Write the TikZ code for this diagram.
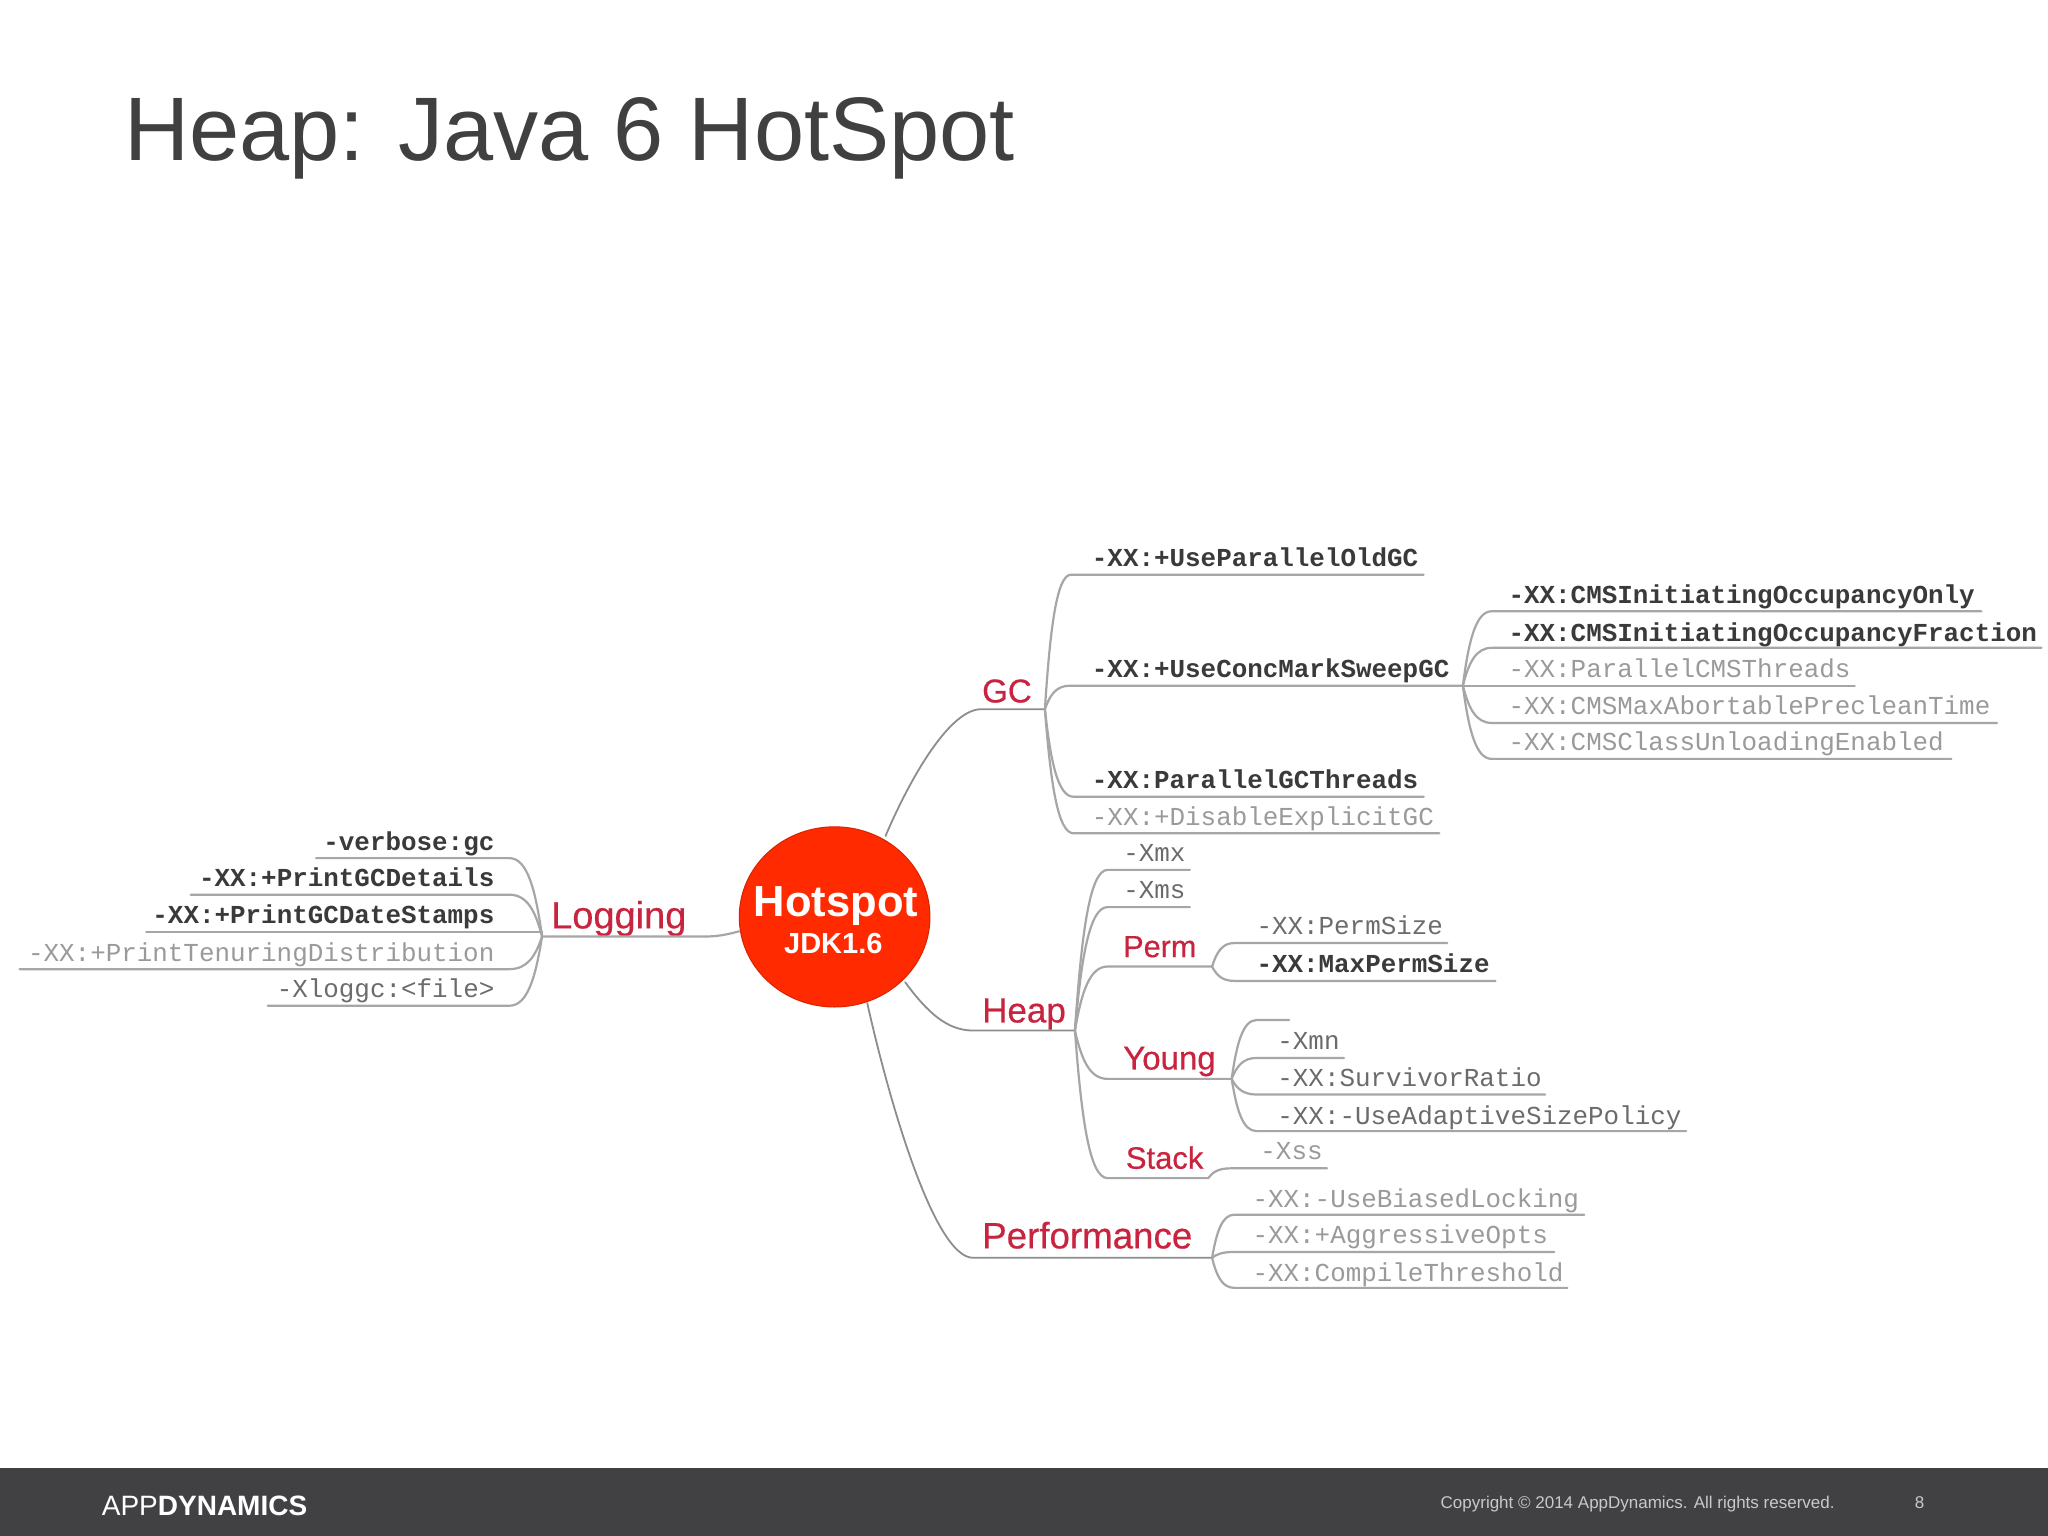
\documentclass[tikz,border=0pt]{standalone}
\usepackage{fontspec}
\setmainfont{Liberation Sans}
\newfontfamily\leaffont{Liberation Mono}
\newfontfamily\labfont[FakeBold=0.5]{Liberation Sans}
\usetikzlibrary{calc,shapes.geometric}
\definecolor{footerc}{HTML}{414042}
\definecolor{titlec}{HTML}{404040}
\definecolor{redc}{HTML}{C9243F}
\definecolor{rootc}{HTML}{FF2A00}
\definecolor{linec}{HTML}{A6A6A6}
\definecolor{darktxt}{HTML}{3A3A3A}
\definecolor{greytxt}{HTML}{9A9A9A}
\tikzset{
  x=1.30612pt,y=-1.30612pt,
  txt/.style={inner sep=0pt,outer sep=0pt,anchor=base west},
  darkleaf/.style={txt,text=darktxt,font=\leaffont\bfseries\fontsize{25.9}{26}\selectfont},
  greyleaf/.style={txt,text=greytxt,font=\leaffont\fontsize{25.9}{26}\selectfont},
  midleaf/.style={txt,text=darktxt!75,font=\leaffont\fontsize{25.9}{26}\selectfont},
  lab/.style={txt,text=redc,font=\labfont\fontsize{#1}{#1}\selectfont},
  conn/.style={draw=linec,line width=2.2pt,line cap=round},
  rootconn/.style={draw=linec!85!black,line width=1.8pt,line cap=round},
}
\newcommand\leaf[8][]{%
  \node[#1] (#2) at (#3,#4+0.8) {#8};
  \coordinate (#2s) at (#5,#7);
  \coordinate (#2e) at (#6,#7);
}
\newcommand\branch[2]{%
  \draw[conn] let \p1=(#1), \p2=(#2s) in
    (#1) .. controls ({\x1+0.2*(\x2-\x1)},{\y1+0.6*(\y2-\y1)}) and ({\x1+0.45*(\x2-\x1)},\y2) .. (#2s) -- (#2e);
}
\begin{document}
\begin{tikzpicture}
\useasboundingbox (0,0) rectangle (1568,1176);
\fill[white] (0,0) rectangle (1568,1176);
\fill[footerc] (0,1124) rectangle (1568,1176);

\node[txt,text=titlec,font=\fontsize{90.2}{91}\selectfont] (title) at (95,123) {Heap: Java 6 HotSpot};

% root
\node[ellipse,fill=rootc,draw=rootc!85!black,line width=1pt,inner sep=0pt,
      minimum width=190.7pt,minimum height=180.2pt] (root) at (639,702) {};
\node[anchor=base,inner sep=0pt,text=white,font=\bfseries\fontsize{43.5}{43.5}\selectfont] (hs) at (640,702) {Hotspot};
\node[anchor=base,inner sep=0pt,text=white,font=\bfseries\fontsize{29}{29}\selectfont] (jdk) at (638,730) {JDK1.6};

% main labels
\leaf[lab=33]{gc}{752}{537}{750}{800}{543}{GC}
\leaf[lab=38]{logging}{422}{710}{540}{415}{717}{Logging}
\leaf[lab=35]{heap}{752}{782}{745}{823}{789}{Heap}
\leaf[lab=36.7]{perf}{752}{955}{745}{928}{963}{Performance}

\coordinate (rgc) at (678,640);
\coordinate (rheap) at (693,752);
\coordinate (rperf) at (664,768);
\coordinate (rlog) at (566,713);
\draw[rootconn] (rgc) .. controls (695,600) and (725,545) .. (gcs) -- (gce);
\draw[rootconn] (rheap) .. controls (710,775) and (725,789) .. (heaps) -- (heape);
\draw[rootconn] (rperf) .. controls (680,840) and (715,963) .. (perfs) -- (perfe);
\draw[conn] (rlog) .. controls (555,716) and (548,717) .. (loggings) -- (logginge);

% GC
\leaf[darkleaf]{gca}{836}{433}{820}{1090}{440}{-XX:+UseParallelOldGC}
\leaf[darkleaf]{gcb}{836}{518}{819}{1120}{525}{-XX:+UseConcMarkSweepGC}
\leaf[darkleaf]{gcc}{836}{603}{822}{1090}{610}{-XX:ParallelGCThreads}
\leaf[greyleaf]{gcd}{836}{631}{822}{1102}{638}{-XX:+DisableExplicitGC}
\foreach \kid in {gca,gcb,gcc,gcd} {\branch{gce}{\kid}}

% CMS
\leaf[darkleaf]{cma}{1155}{461}{1142}{1517}{468}{-XX:CMSInitiatingOccupancyOnly}
\leaf[darkleaf]{cmb}{1155}{490}{1142}{1563}{496}{-XX:CMSInitiatingOccupancyFraction}
\leaf[greyleaf]{cmc}{1155}{518}{1120}{1420}{525}{-XX:ParallelCMSThreads}
\leaf[greyleaf]{cmd}{1155}{546}{1142}{1529}{553.5}{-XX:CMSMaxAbortablePrecleanTime}
\leaf[greyleaf]{cme}{1155}{574}{1142}{1494}{581}{-XX:CMSClassUnloadingEnabled}
\foreach \kid in {cma,cmb,cmc,cmd,cme} {\branch{gcbe}{\kid}}

% Logging
\leaf[darkleaf,anchor=base east]{la}{378.5}{650}{390}{242}{657}{-verbose:gc}
\leaf[darkleaf,anchor=base east]{lb}{378.5}{678}{390}{146}{685}{-XX:+PrintGCDetails}
\leaf[darkleaf,anchor=base east]{lc}{378.5}{706}{415}{112}{713.5}{-XX:+PrintGCDateStamps}
\leaf[greyleaf,anchor=base east]{ld}{378.5}{735}{390}{15}{742}{-XX:+PrintTenuringDistribution}
\leaf[midleaf,anchor=base east]{le}{378.5}{763}{390}{205}{770}{-Xloggc:<file>}
\foreach \kid in {la,lb,lc,ld,le} {\branch{logginge}{\kid}}

% Heap
\leaf[midleaf]{hmx}{860}{658.5}{848}{911}{666}{-Xmx}
\leaf[midleaf]{hms}{860}{687}{848}{911}{694.5}{-Xms}
\leaf[lab=30.6]{perm}{860}{732}{848}{928}{740}{Perm}
\leaf[lab=33]{young}{860}{818}{848}{943}{826}{Young}
\leaf[lab=31]{stack}{862}{894}{848}{925}{902}{Stack}
\foreach \kid in {hmx,hms,perm,young,stack} {\branch{heape}{\kid}}

% Perm
\leaf[midleaf]{pa}{962}{715}{945}{1108}{722}{-XX:PermSize}
\leaf[darkleaf]{pb}{962}{743.5}{945}{1145}{751}{-XX:MaxPermSize}
\foreach \kid in {pa,pb} {\branch{perme}{\kid}}

% Young
\coordinate (yes) at (962,781);
\coordinate (yee) at (987,781);
\leaf[midleaf]{ya}{978}{802.5}{962}{1029}{810}{-Xmn}
\leaf[midleaf]{yb}{978}{831}{962}{1183}{838}{-XX:SurvivorRatio}
\leaf[midleaf]{yc}{978}{860}{962}{1291}{866}{-XX:-UseAdaptiveSizePolicy}
\foreach \kid in {ye,ya,yb,yc} {\branch{younge}{\kid}}

% Stack
\leaf[greyleaf]{xss}{965}{887}{942}{1016}{894.5}{-Xss}
\branch{stacke}{xss}

% Performance
\leaf[greyleaf]{pfa}{959}{923.5}{945}{1213}{930}{-XX:-UseBiasedLocking}
\leaf[greyleaf]{pfb}{959}{951.5}{945}{1190}{958.5}{-XX:+AggressiveOpts}
\leaf[greyleaf]{pfc}{959}{980}{945}{1200}{986}{-XX:CompileThreshold}
\foreach \kid in {pfa,pfb,pfc} {\branch{perfe}{\kid}}

% footer
\node[txt,text=white,font=\fontsize{28}{28}\selectfont] (logo) at (78,1160) {APP\textbf{DYNAMICS}};
\node[txt,text=white!72!footerc,font=\fontsize{17}{17}\selectfont] (copy) at (1103,1155) {Copyright © 2014 AppDynamics. All rights reserved.};
\node[txt,text=white!72!footerc,font=\fontsize{17}{17}\selectfont] (page) at (1466,1155) {8};
\end{tikzpicture}
\end{document}
